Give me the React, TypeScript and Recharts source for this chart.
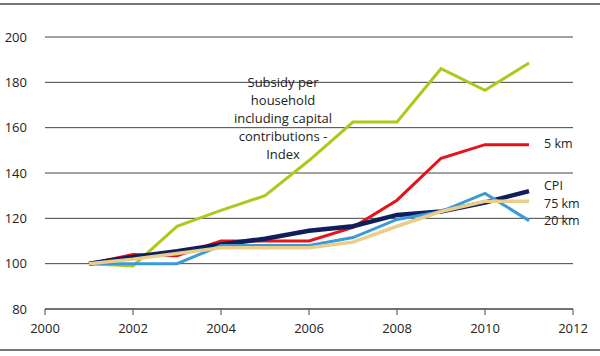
import { CartesianGrid, Customized, Line, LineChart, XAxis, YAxis } from "recharts";

const years = [2001, 2002, 2003, 2004, 2005, 2006, 2007, 2008, 2009, 2010, 2011];
const subsidy = [100, 99, 116.5, 123.5, 130, 145.5, 162.5, 162.5, 186, 176.5, 188.5];
const km5 = [100, 104, 103.5, 110, 110, 110, 116, 128, 146.5, 152.5, 152.5];
const cpi = [100, 103, 105.5, 108.5, 111, 114.5, 116.5, 121.5, 123, 127, 132];
const km20 = [100, 100, 100, 108, 108, 108, 111.5, 119.5, 123, 131, 119];
const km75 = [100, 102, 104.5, 107, 107, 107, 109.5, 116.5, 123, 127.5, 127.5];

const xTicks = [2000, 2002, 2004, 2006, 2008, 2010, 2012];
const yTicks = [80, 100, 120, 140, 160, 180, 200];
const noteLines = ["Subsidy per", "household", "including capital", "contributions -", "Index"];

const data = years.map((year, i) => ({
  year,
  subsidy: subsidy[i],
  km5: km5[i],
  cpi: cpi[i],
  km20: km20[i],
  km75: km75[i],
}));

const font = "'Open Sans', sans-serif";

function endLabel(text: string, dy: number) {
  return (props: any) => {
    if (props.index !== years.length - 1) return null;
    return (
      <text x={props.x + 15} y={props.y + dy} fontSize={12.5} fill="#222" fontFamily={font} dominantBaseline="middle">
        {text}
      </text>
    );
  };
}

function Note() {
  return (
    <text textAnchor="middle" fontSize={13} fill="#222" fontFamily={font}>
      {noteLines.map((line, i) => (
        <tspan key={line} x={283} y={87 + i * 18}>
          {line}
        </tspan>
      ))}
    </text>
  );
}

export default function App() {
  return (
    <div style={{ position: "absolute", left: 0, top: 0, width: 600, height: 356, background: "#fff" }}>
      <div style={{ position: "absolute", left: 0, top: 3, width: 600, height: 2, background: "#777" }} />
      <div style={{ position: "absolute", left: 0, top: 349, width: 600, height: 2, background: "#777" }} />
      <LineChart width={600} height={356} data={data} margin={{ top: 37, right: 27, left: 0, bottom: 0 }}>
        <CartesianGrid horizontal vertical={false} stroke="#444" strokeWidth={1} />
        <XAxis
          dataKey="year"
          type="number"
          domain={[2000, 2012]}
          ticks={xTicks}
          height={47}
          stroke="#444"
          tickSize={6}
          tick={{ fill: "#222", fontSize: 13, fontFamily: font, dy: 7 }}
        />
        <YAxis
          domain={[80, 200]}
          ticks={yTicks}
          width={45}
          axisLine={false}
          tickLine={false}
          tickMargin={12}
          tick={{ fill: "#222", fontSize: 13, fontFamily: font }}
        />
        <Line dataKey="subsidy" stroke="#b2c71c" strokeWidth={3} dot={false} isAnimationActive={false} />
        <Line dataKey="km5" stroke="#e5141b" strokeWidth={3} dot={false} isAnimationActive={false} label={endLabel("5 km", 0)} />
        <Line dataKey="cpi" stroke="#0e1f5b" strokeWidth={4.5} dot={false} isAnimationActive={false} label={endLabel("CPI", -4)} />
        <Line dataKey="km20" stroke="#3b9ad8" strokeWidth={3} dot={false} isAnimationActive={false} label={endLabel("20 km", 1)} />
        <Line dataKey="km75" stroke="#ebcd8b" strokeWidth={3.5} dot={false} isAnimationActive={false} label={endLabel("75 km", 3)} />
        <Customized component={Note} />
      </LineChart>
    </div>
  );
}
